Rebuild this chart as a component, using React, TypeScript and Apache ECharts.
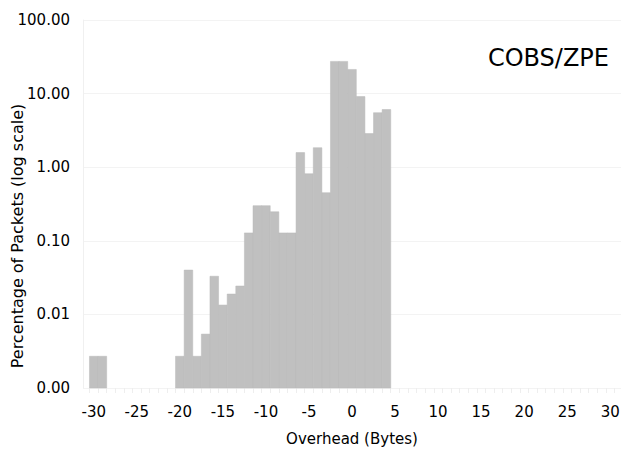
import React, { useEffect, useRef } from "react";
import * as echarts from "echarts";

// Overhead bins (bytes) that hold packets, and their percentage of packets
const overheadBytes = [-30, -29, -20, -19, -18, -17, -16, -15, -14, -13, -12, -11, -10, -9, -8, -7, -6, -5, -4, -3, -2, -1, 0, 1, 2, 3, 4];
const percentPackets = [0.0027, 0.0027, 0.0027, 0.04, 0.0027, 0.0054, 0.033, 0.0134, 0.0189, 0.0243, 0.128, 0.3, 0.3, 0.248, 0.128, 0.128, 1.58, 0.815, 1.84, 0.45, 27.4, 27.4, 21.3, 9.1, 2.86, 5.5, 6.07];
const xTickLabels = [-30, -25, -20, -15, -10, -5, 0, 5, 10, 15, 20, 25, 30];
const xBinEdges = [-30.5, -29.5, -28.5, -27.5, -26.5, -25.5, -24.5, -23.5, -22.5, -21.5, -20.5, -19.5, -18.5, -17.5, -16.5, -15.5, -14.5, -13.5, -12.5, -11.5, -10.5, -9.5, -8.5, -7.5, -6.5, -5.5, -4.5, -3.5, -2.5, -1.5, -0.5, 0.5, 1.5, 2.5, 3.5, 4.5, 5.5, 6.5, 7.5, 8.5, 9.5, 10.5, 11.5, 12.5, 13.5, 14.5, 15.5, 16.5, 17.5, 18.5, 19.5, 20.5, 21.5, 22.5, 23.5, 24.5, 25.5, 26.5, 27.5, 28.5, 29.5, 30.5];

const FONT = "DejaVu Sans";

export default function App() {
  const ref = useRef<HTMLDivElement>(null);
  useEffect(() => {
    if (!ref.current) return;
    const chart = echarts.init(ref.current, undefined, { renderer: "svg" });
    const data = overheadBytes.map((x, i) => [x, percentPackets[i]]);
    chart.setOption({
      animation: false,
      backgroundColor: "#ffffff",
      title: {
        text: "COBS/ZPE",
        right: 12,
        top: 46,
        padding: 0,
        textStyle: { fontFamily: FONT, fontSize: 24, fontWeight: "normal", color: "#000" },
      },
      graphic: [
        {
          type: "text",
          x: 17,
          y: 236,
          rotation: Math.PI / 2,
          style: {
            text: "Percentage of Packets (log scale)",
            fontFamily: FONT,
            fontSize: 16,
            fill: "#000",
            align: "center",
            verticalAlign: "middle",
          },
        },
      ],
      grid: { left: 83, right: 0, top: 20, bottom: 67, outerBoundsMode: "none", containLabel: false },
      xAxis: {
        type: "value",
        min: -31.25,
        max: 31.25,
        name: "Overhead (Bytes)",
        nameLocation: "middle",
        nameGap: 43,
        nameTextStyle: { fontFamily: FONT, fontSize: 15, color: "#000" },
        axisLine: { show: false },
        splitLine: { show: false },
        axisTick: {
          show: true,
          customValues: xBinEdges,
          length: 5,
          lineStyle: { color: "#eeeeee", width: 1 },
        },
        axisLabel: {
          customValues: xTickLabels,
          margin: 16,
          fontFamily: FONT,
          fontSize: 15,
          color: "#000",
        },
      },
      yAxis: {
        type: "log",
        logBase: 10,
        min: 0.001,
        max: 100,
        axisLine: { show: true, onZero: false, lineStyle: { color: "#f0f0f0" } },
        axisTick: { show: false },
        splitLine: { show: true, lineStyle: { color: "#f3f3f3", width: 1 } },
        axisLabel: {
          margin: 13,
          fontFamily: FONT,
          fontSize: 15,
          color: "#000",
          formatter: (v: number) => Number(v).toFixed(2),
        },
      },
      series: [
        {
          type: "custom",
          encode: { x: 0, y: 1 },
          data,
          renderItem: (params: any, api: any) => {
            const x = api.value(0);
            const v = api.value(1);
            const p0 = api.coord([x - 0.5, v]);
            const p1 = api.coord([x + 0.5, 0.001]);
            return {
              type: "rect",
              shape: { x: p0[0], y: p0[1], width: p1[0] - p0[0], height: p1[1] - p0[1] },
              style: { fill: "#c0c0c0", stroke: "#b8b8b8", lineWidth: 0.5 },
            };
          },
        },
      ],
    });
    return () => chart.dispose();
  }, []);
  return (
    <div
      ref={ref}
      style={{ position: "fixed", left: 0, top: 0, width: 621, height: 455, background: "#fff" }}
    />
  );
}
